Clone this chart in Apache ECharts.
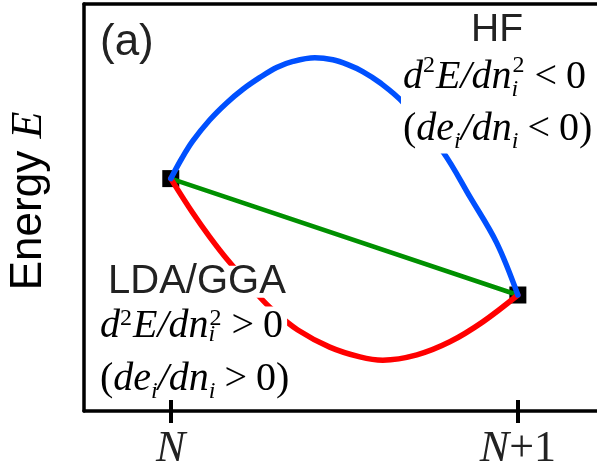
<!DOCTYPE html>
<html>
<head>
<meta charset="utf-8">
<title>Energy vs particle number</title>
<script src="https://cdn.jsdelivr.net/npm/echarts@6/dist/echarts.min.js"></script>
<style>
html, body { margin: 0; padding: 0; background: #fff; }
#chart { width: 597px; height: 464px; }
</style>
</head>
<body>
<div id="chart"></div>
<script>
// x = electron number measured from N, y = total energy (arbitrary units)
var tickValues = [0, 1];
var tickNames = ['N', 'N+1'];
var endPoints = [[0, 5.71], [1, 2.85]];
var exactLine = [[0, 5.71], [1, 2.85]];
var hfCurve = [
    [0, 5.71], [0.032, 6.21], [0.063, 6.63], [0.112, 7.15], [0.161, 7.57],
    [0.207, 7.90], [0.256, 8.19], [0.305, 8.44], [0.352, 8.59], [0.415, 8.68],
    [0.467, 8.63], [0.510, 8.51], [0.553, 8.34], [0.602, 8.07], [0.669, 7.58],
    [0.784, 6.37], [0.862, 5.26], [0.939, 4.13], [1, 2.85]
];
var ldaCurve = [
    [0, 5.71], [0.063, 4.87], [0.112, 4.28], [0.164, 3.71], [0.251, 2.85],
    [0.294, 2.48], [0.366, 1.99], [0.458, 1.57], [0.545, 1.33], [0.611, 1.25],
    [0.709, 1.38], [0.804, 1.70], [0.899, 2.19], [1, 2.85]
];

var ink = '#222';
var serif = '"Liberation Serif", "DejaVu Serif", serif';
var sans = '"Liberation Sans", Arial, sans-serif';

// rich styles for the small formulas, lh = line height of the main glyphs
function mathRich(size, lh) {
    return {
        it: { fontFamily: serif, fontStyle: 'italic', fontSize: size, lineHeight: lh, color: ink },
        rm: { fontFamily: serif, fontSize: size, lineHeight: lh, color: ink },
        rel: { fontFamily: serif, fontSize: size, lineHeight: lh, color: ink, padding: [0, 9, 0, 9] },
        sup: { fontFamily: serif, fontSize: 24, lineHeight: lh - 8, verticalAlign: 'top', color: ink, padding: [0, 1, 0, 0] },
        sub: { fontFamily: serif, fontStyle: 'italic', fontSize: 24, lineHeight: lh - 34, verticalAlign: 'bottom', color: ink },
        subz: { fontFamily: serif, fontStyle: 'italic', fontSize: 24, lineHeight: lh - 34, verticalAlign: 'bottom', color: ink, width: 1 }
    };
}

function textEl(x, y, text, rich, opts) {
    var el = {
        type: 'text',
        x: x,
        y: y,
        z: 100,
        style: {
            text: text,
            rich: rich,
            align: 'left',
            verticalAlign: 'top'
        }
    };
    for (var k in opts) el.style[k] = opts[k];
    return el;
}

var frame = { show: true, onZero: false, lineStyle: { color: '#000', width: 3.5 } };

var chart = echarts.init(document.getElementById('chart'));

var option = {
    animation: false,
    grid: {
        left: 84,
        top: 4,
        right: 0,
        bottom: 53,
        outerBoundsMode: 'none'
    },
    xAxis: [{
        type: 'value',
        min: -0.25,
        max: 1.228,
        position: 'bottom',
        axisLine: frame,
        splitLine: { show: false },
        axisTick: {
            customValues: tickValues,
            length: 12,
            lineStyle: { color: '#000', width: 4 }
        },
        axisLabel: {
            customValues: tickValues,
            margin: 14,
            formatter: function (v) {
                var name = tickNames[tickValues.indexOf(v)];
                if (name === 'N') return '{it|N}';
                return '{it|N}{rm|+1}';
            },
            rich: {
                it: { fontFamily: serif, fontStyle: 'italic', fontSize: 44, lineHeight: 48, color: ink },
                rm: { fontFamily: serif, fontSize: 44, lineHeight: 48, color: ink }
            }
        }
    }, {
        type: 'value',
        min: -0.25,
        max: 1.228,
        position: 'bottom',
        axisLine: { show: false, onZero: false },
        splitLine: { show: false },
        axisTick: {
            customValues: tickValues,
            inside: true,
            length: 11,
            lineStyle: { color: '#000', width: 4 }
        },
        axisLabel: { show: false }
    }, {
        type: 'value',
        min: -0.25,
        max: 1.228,
        position: 'top',
        axisLine: frame,
        splitLine: { show: false },
        axisTick: { show: false },
        axisLabel: { show: false }
    }],
    yAxis: {
        type: 'value',
        min: 0,
        max: 10,
        position: 'left',
        axisLine: frame,
        axisTick: { show: false },
        axisLabel: { show: false },
        splitLine: { show: false }
    },
    series: [{
        type: 'scatter',
        data: endPoints,
        symbol: 'rect',
        symbolSize: 17,
        itemStyle: { color: '#000', opacity: 1 },
        z: 1
    }, {
        type: 'line',
        data: exactLine,
        showSymbol: false,
        lineStyle: { color: '#009000', width: 4.5, cap: 'round' },
        z: 3
    }, {
        type: 'line',
        data: ldaCurve,
        smooth: 0.35,
        showSymbol: false,
        lineStyle: { color: '#ff0000', width: 5.5, cap: 'round', join: 'round' },
        z: 4
    }, {
        type: 'line',
        data: hfCurve,
        smooth: 0.35,
        showSymbol: false,
        lineStyle: { color: '#0050ff', width: 5.5, cap: 'round', join: 'round' },
        z: 5
    }],
    graphic: [
        textEl(100, 18, '(a)', null, { font: '44px ' + sans, fill: ink, lineHeight: 50 }),
        {
            type: 'text', x: 497, y: 11, z: 100,
            style: { text: 'HF', font: '39px ' + sans, fill: ink, align: 'center', verticalAlign: 'top' }
        },
        textEl(401, 51.5, '{it|d}{sup|2}{it|E/dn}{subz|i}{sup|2}{rel|<}{rm|0}', mathRich(40, 48),
            { backgroundColor: '#fff', padding: [2, 3, 3, 2] }),
        textEl(401, 103.5, '{rm|(}{it|de}{sub|i}{it|/dn}{sub|i}{rel|<}{rm|0)}', mathRich(40, 48),
            { backgroundColor: '#fff', padding: [2, 3, 0, 2] }),
        textEl(107, 265.7, 'LDA/GGA', null,
            { font: '40px ' + sans, fill: ink, lineHeight: 30, backgroundColor: '#fff', padding: [1, 3, 1, 1] }),
        textEl(98, 306.5, '{it|d}{sup|2}{it|E/dn}{subz|i}{sup|2}{rel|>}{rm|0}', mathRich(40, 40),
            { backgroundColor: '#fff', padding: [0, 4, 2, 2] }),
        textEl(100, 355.5, '{rm|(}{it|de}{sub|i}{it|/dn}{sub|i}{rel|>}{rm|0)}', mathRich(40, 48), {}),
        {
            type: 'text', x: 29, y: 201, z: 100, rotation: Math.PI / 2,
            style: {
                text: '{s|Energy }{e|E}',
                align: 'center',
                verticalAlign: 'middle',
                rich: {
                    s: { fontFamily: sans, fontSize: 44, lineHeight: 50, color: ink },
                    e: { fontFamily: serif, fontStyle: 'italic', fontSize: 44, lineHeight: 50, color: ink }
                }
            }
        }
    ]
};

chart.setOption(option);
</script>
</body>
</html>
